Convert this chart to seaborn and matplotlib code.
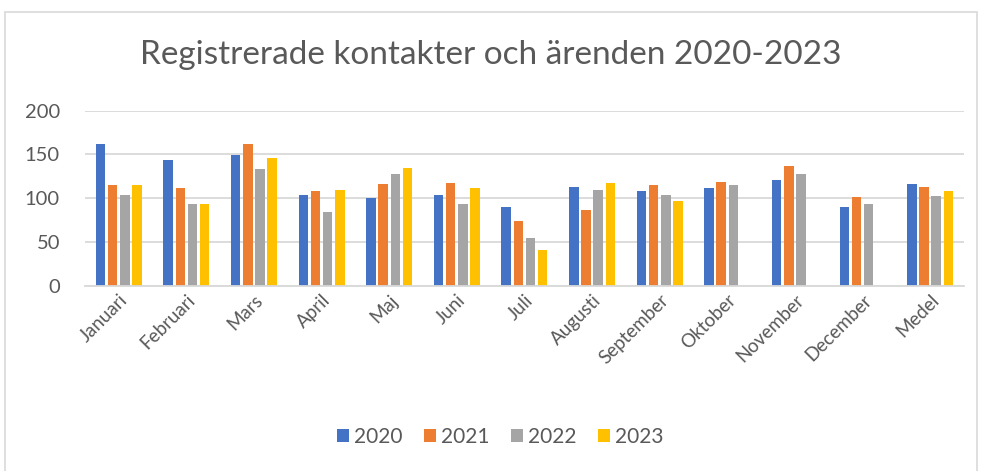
import pandas as pd
import numpy as np
import matplotlib.pyplot as plt
import seaborn as sns
from matplotlib.patches import Rectangle

# Data
months = ["Januari", "Februari", "Mars", "April", "Maj", "Juni", "Juli",
          "Augusti", "September", "Oktober", "November", "December", "Medel"]
years = ["2020", "2021", "2022", "2023"]
v2020 = [162, 144, 149, 104, 100, 104, 90, 113, 108, 112, 121, 90, 116]
v2021 = [115, 112, 162, 108, 116, 118, 74, 87, 115, 119, 137, 102, 113]
v2022 = [104, 94, 134, 84, 128, 94, 55, 110, 104, 115, 128, 94, 103]
v2023 = [115, 94, 146, 109, 135, 112, 41, 118, 97, np.nan, np.nan, np.nan, 108]
colors = ["#4472C4", "#ED7D31", "#A5A5A5", "#FFC000"]

df = pd.DataFrame({
    "month": months * 4,
    "year": sum([[y] * len(months) for y in years], []),
    "value": v2020 + v2021 + v2022 + v2023,
})

sns.set_style("white")
plt.rcParams["font.family"] = ["Lato", "DejaVu Sans"]

fig = plt.figure(figsize=(9.81, 4.71), dpi=100)
ax = fig.add_axes([0.0866, 0.393, 0.896, 0.372])

sns.barplot(data=df, x="month", y="value", hue="year", palette=colors,
            width=0.72, gap=0.22, ax=ax, errorbar=None, order=months,
            hue_order=years, linewidth=0, saturation=1)

ax.set_xlim(-0.5, 12.5)
ax.set_ylim(0, 200)
ax.set_yticks([0, 50, 100, 150, 200])
ax.yaxis.grid(True, color="#d9d9d9", linewidth=1.3)
ax.set_axisbelow(True)
for s in ["top", "right", "left"]:
    ax.spines[s].set_visible(False)
ax.spines["bottom"].set_color("#d9d9d9")
ax.spines["bottom"].set_linewidth(1.3)
ax.set_xlabel("")
ax.set_ylabel("")
ax.tick_params(axis="both", length=0, labelcolor="#595959")
ax.tick_params(axis="y", pad=18, labelsize=14.5)
ax.tick_params(axis="x", labelsize=13.5, pad=4)
plt.setp(ax.get_xticklabels(), rotation=45, ha="right", rotation_mode="anchor")

fig.suptitle("Registrerade kontakter och ärenden 2020-2023", y=0.915,
             fontsize=24, color="#595959")

ax.legend(loc="center", bbox_to_anchor=(0.51, 0.072), bbox_transform=fig.transFigure,
          ncol=4, frameon=False, fontsize=15, handlelength=0.6, handleheight=0.6,
          columnspacing=1.0, handletextpad=0.25, labelcolor="#595959")

fig.patches.append(Rectangle((5 / 981, -0.05), 972 / 981, 1 - 12 / 471 + 0.05,
                             transform=fig.transFigure, fill=False,
                             edgecolor="#d9d9d9", linewidth=1.2))

fig.savefig("out.png", dpi=100)
